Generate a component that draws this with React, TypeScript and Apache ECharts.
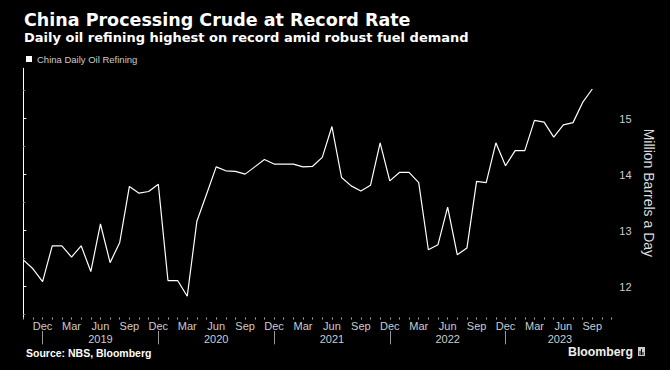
import React, { useEffect, useRef } from "react";
import * as echarts from "echarts";

// Monthly periods (NBS reports Jan-Feb combined, so both months share one value)
const periods = [
  "2018-10", "2018-11", "2018-12",
  "2019-01", "2019-02", "2019-03", "2019-04", "2019-05", "2019-06",
  "2019-07", "2019-08", "2019-09", "2019-10", "2019-11", "2019-12",
  "2020-01", "2020-02", "2020-03", "2020-04", "2020-05", "2020-06",
  "2020-07", "2020-08", "2020-09", "2020-10", "2020-11", "2020-12",
  "2021-01", "2021-02", "2021-03", "2021-04", "2021-05", "2021-06",
  "2021-07", "2021-08", "2021-09", "2021-10", "2021-11", "2021-12",
  "2022-01", "2022-02", "2022-03", "2022-04", "2022-05", "2022-06",
  "2022-07", "2022-08", "2022-09", "2022-10", "2022-11", "2022-12",
  "2023-01", "2023-02", "2023-03", "2023-04", "2023-05", "2023-06",
  "2023-07", "2023-08", "2023-09",
];

// China daily oil refining, million barrels a day
const refining = [
  12.48, 12.32, 12.09,
  12.73, 12.73, 12.53, 12.73, 12.27, 13.12,
  12.43, 12.79, 13.79, 13.67, 13.70, 13.83,
  12.11, 12.11, 11.83, 13.17, 13.65, 14.14,
  14.07, 14.06, 14.01, 14.14, 14.27, 14.19,
  14.19, 14.19, 14.14, 14.15, 14.31, 14.86,
  13.95, 13.80, 13.71, 13.81, 14.57, 13.89,
  14.04, 14.04, 13.86, 12.66, 12.75, 13.42,
  12.57, 12.69, 13.88, 13.86, 14.57, 14.16,
  14.43, 14.43, 14.97, 14.94, 14.67, 14.89,
  14.93, 15.29, 15.53,
];

const monthNames = ["Jan", "Feb", "Mar", "Apr", "May", "Jun", "Jul", "Aug", "Sep", "Oct", "Nov", "Dec"];
const labelledMonths = ["Mar", "Jun", "Sep", "Dec"];
const yearLabels = ["2019", "2020", "2021", "2022", "2023"];
const yTickLabels = [12, 13, 14, 15];
const yMinorTicks = [11.5, 12.5, 13.5, 14.5, 15.5];

const seriesName = "China Daily Oil Refining";
const titleText = "China Processing Crude at Record Rate";
const subtitleText = "Daily oil refining highest on record amid robust fuel demand";
const sourceText = "Source: NBS, Bloomberg";
const yAxisName = "Million Barrels a Day";

const FONT = "'Liberation Sans', Arial, sans-serif";
const HEAD_FONT = "'DejaVu Sans', 'Liberation Sans', sans-serif";

export default function App() {
  const ref = useRef<HTMLDivElement>(null);

  useEffect(() => {
    if (!ref.current) return;
    const chart = echarts.init(ref.current, null, { renderer: "svg" });

    const xMin = 0;
    const xMax = 61.28; // axis runs a little past the last month
    const monthOf = (i: number) => monthNames[Number(periods[i].slice(5, 7)) - 1];
    const tickIdx = Array.from({ length: Math.floor(xMax) + 1 }, (_, i) => i);
    const labelIdx = periods.map((_, i) => i).filter((i) => labelledMonths.includes(monthOf(i)));
    const decIdx = periods.map((_, i) => i).filter((i) => monthOf(i) === "Dec");
    // year label sits midway between its year separators (or axis end)
    const bounds = [...decIdx, xMax];
    const yearPos = yearLabels.map((_, k) => (bounds[k] + bounds[k + 1]) / 2);

    const data = periods.map((p, i) => [i, refining[i]]);

    chart.setOption({
      animation: false,
      backgroundColor: "#000000",
      textStyle: { fontFamily: FONT },
      title: [
        {
          text: titleText,
          left: 24,
          top: 10.5,
          padding: 0,
          textStyle: { color: "#ffffff", fontSize: 17.5, fontWeight: "bold", fontFamily: HEAD_FONT },
        },
        {
          text: subtitleText,
          left: 24,
          top: 31,
          padding: 0,
          textStyle: { color: "#ffffff", fontSize: 13, fontWeight: "bold", fontFamily: HEAD_FONT },
        },
      ],
      legend: {
        data: [seriesName],
        left: 26,
        top: 54,
        padding: 0,
        icon: "rect",
        itemWidth: 6,
        itemHeight: 6,
        textStyle: { color: "#cccccc", fontSize: 9.5, fontFamily: FONT },
      },
      grid: { left: 23.3, top: 68.3, width: 591, height: 249.2 },
      xAxis: [
        {
          type: "value",
          min: xMin,
          max: xMax,
          position: "bottom",
          axisLine: { show: false },
          splitLine: { show: false },
          axisTick: {
            show: true,
            customValues: tickIdx,
            length: 2,
            lineStyle: { color: "#aaaaaa", width: 1 },
          },
          axisLabel: {
            customValues: labelIdx,
            formatter: (v: number) => monthOf(Math.round(v)),
            color: "#cccccc",
            fontSize: 11,
            margin: 3,
            fontFamily: FONT,
          },
        },
        {
          type: "value",
          min: xMin,
          max: xMax,
          position: "bottom",
          offset: 13.5,
          axisLine: { show: false },
          splitLine: { show: false },
          axisTick: {
            show: true,
            customValues: decIdx,
            length: 13.3,
            lineStyle: { color: "#999999", width: 1 },
          },
          axisLabel: {
            customValues: yearPos,
            formatter: (v: number) => {
              const k = yearPos.findIndex((p) => Math.abs(p - v) < 1e-6);
              return k >= 0 ? yearLabels[k] : "";
            },
            color: "#cccccc",
            fontSize: 11,
            margin: 2,
            fontFamily: FONT,
          },
        },
      ],
      yAxis: [
        {
          type: "value",
          position: "right",
          min: 11.45,
          max: 15.9,
          axisLine: { show: true, lineStyle: { color: "#ffffff", width: 1 } },
          splitLine: { show: false },
          axisTick: {
            show: true,
            customValues: yTickLabels,
            length: 3,
            lineStyle: { color: "#ffffff", width: 1 },
          },
          axisLabel: {
            customValues: yTickLabels,
            color: "#cccccc",
            fontSize: 11,
            margin: 5,
            fontFamily: FONT,
          },
          name: yAxisName,
          nameLocation: "middle",
          nameGap: 27,
          nameRotate: -90,
          nameTextStyle: { color: "#dddddd", fontSize: 14, fontFamily: FONT },
        },
        {
          type: "value",
          position: "right",
          min: 11.45,
          max: 15.9,
          axisLine: { show: false },
          splitLine: { show: false },
          axisTick: {
            show: true,
            customValues: yMinorTicks,
            length: 2,
            lineStyle: { color: "#777777", width: 1 },
          },
          axisLabel: { show: false },
        },
      ],
      series: [
        {
          name: seriesName,
          type: "line",
          xAxisIndex: 0,
          yAxisIndex: 0,
          data,
          showSymbol: false,
          symbol: "none",
          itemStyle: { color: "#ffffff" },
          lineStyle: { color: "#ffffff", width: 1.2 },
        },
      ],
      graphic: [
        {
          type: "text",
          x: 26,
          y: 353,
          style: {
            text: sourceText,
            fill: "#ffffff",
            font: `bold 10.5px ${FONT}`,
            textVerticalAlign: "middle",
            verticalAlign: "middle",
          },
        },
        {
          type: "text",
          x: 568,
          y: 352,
          style: {
            text: "Bloomberg",
            fill: "#eeeeee",
            font: `bold 12.3px ${FONT}`,
            textVerticalAlign: "middle",
            verticalAlign: "middle",
          },
        },
        {
          type: "group",
          x: 638,
          y: 347,
          children: [
            { type: "rect", shape: { x: 0, y: 0, width: 7, height: 9 }, style: { fill: "#cccccc" } },
            { type: "rect", shape: { x: 1.5, y: 4, width: 1, height: 4 }, style: { fill: "#000000" } },
            { type: "rect", shape: { x: 3, y: 2, width: 1, height: 6 }, style: { fill: "#000000" } },
            { type: "rect", shape: { x: 4.5, y: 5, width: 1, height: 3 }, style: { fill: "#000000" } },
          ],
        },
      ],
    });

    return () => chart.dispose();
  }, []);

  return (
    <div
      ref={ref}
      style={{ position: "fixed", left: 0, top: 0, width: 670, height: 370, background: "#000" }}
    />
  );
}
